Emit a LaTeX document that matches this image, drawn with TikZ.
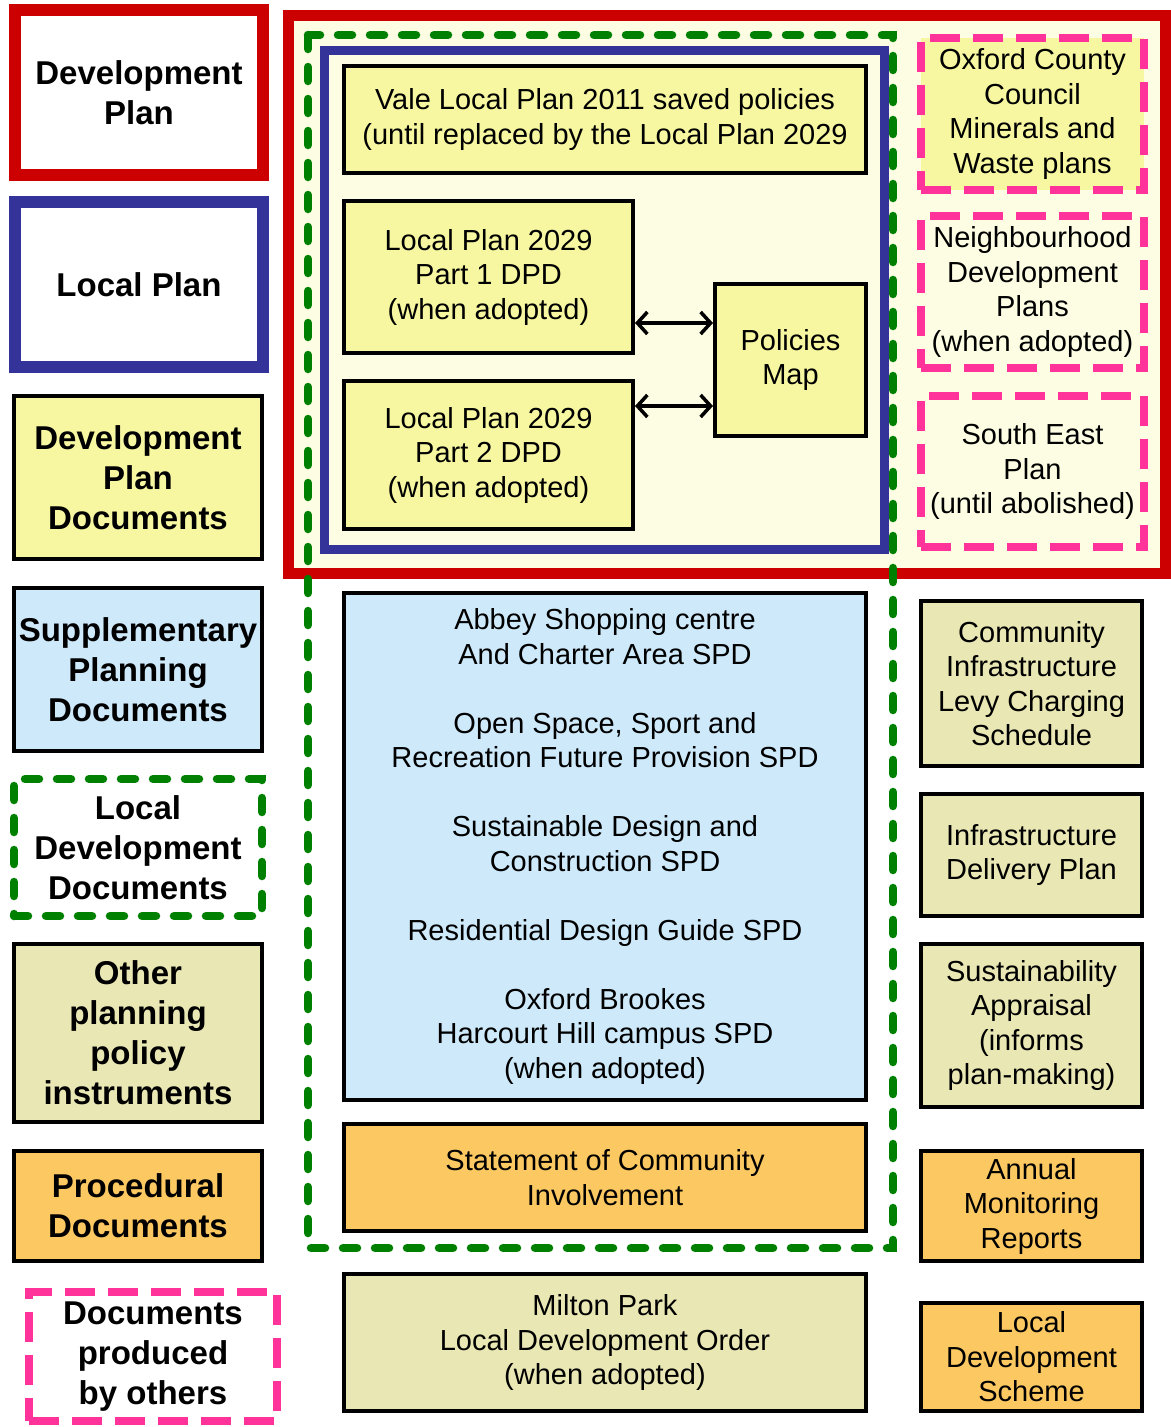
\documentclass[tikz,border=0pt]{standalone}
\usepackage{fontspec}
\setmainfont{Liberation Sans}
\definecolor{dpred}{HTML}{CC0000}
\definecolor{lpblue}{HTML}{333399}
\definecolor{lddgreen}{HTML}{008000}
\definecolor{otherpink}{HTML}{FF3399}
\definecolor{dpdyellow}{HTML}{F7F7A1}
\definecolor{spdblue}{HTML}{CDE9FA}
\definecolor{opikhaki}{HTML}{E9E7B3}
\definecolor{procorange}{HTML}{FBC862}
\definecolor{dpcream}{HTML}{FDFDE3}
\usetikzlibrary{arrows.meta,calc}

\begin{document}
\begin{tikzpicture}[x=1pt,y=-1pt,
    box/.style={draw=black,line width=4,align=center,inner sep=0pt,
      font=\fontsize{29}{34.5}\selectfont},
    keybox/.style={box,font=\bfseries\fontsize{33}{40}\selectfont},
    grdash/.style={draw=lddgreen,line width=8.5,line cap=round,dash pattern=on 14pt off 18pt},
    pkdash/.style={draw=otherpink,line width=7.5,dash pattern=on 30pt off 13pt},
    dbl/.style={{Straight Barb[length=10pt,width=22pt]}-{Straight Barb[length=10pt,width=22pt]},line width=3.5}]
    \useasboundingbox (0,0) rectangle (1170,1427);

    % Key (left column)
    \node[keybox,draw=dpred,line width=12,minimum width=248,minimum height=165]
      (keyDP) at (139,92.5) {Development\\Plan};
    \node[keybox,draw=lpblue,line width=12,minimum width=248,minimum height=165]
      (keyLP) at (139,284.5) {Local Plan};
    \node[keybox,fill=dpdyellow,minimum width=248,minimum height=163]
      (keyDPD) at (138,477.5) {Development\\Plan\\Documents};
    \node[keybox,fill=spdblue,minimum width=248,minimum height=163]
      (keySPD) at (138,669.5) {Supplementary\\Planning\\Documents};
    \node[keybox,grdash,minimum width=248,minimum height=137]
      (keyLDD) at (138,847.5) {Local\\Development\\Documents};
    \node[keybox,fill=opikhaki,minimum width=248,minimum height=178]
      (keyOPI) at (138,1033) {Other\\planning\\policy\\instruments};
    \node[keybox,fill=procorange,minimum width=248,minimum height=110]
      (keyPD) at (138,1206) {Procedural\\Documents};
    \node[keybox,pkdash,minimum width=248,minimum height=129]
      (keyOthers) at (153,1356.5) {Documents\\produced\\by others};

    % Development Plan frame
    \draw[dpred,line width=11,fill=dpcream] (288,15) rectangle (1165,573);
    % Local Development Documents frame
    \draw[grdash] (308,35) rectangle (893,1248);
    % Local Plan frame
    \draw[lpblue,line width=9] (324,50) rectangle (884,549);

    % Local Plan contents
    \node[box,fill=dpdyellow,minimum width=522,minimum height=107] (vale) at (605,119.5)
      {Vale Local Plan 2011 saved policies\\(until replaced by the Local Plan 2029};
    \node[box,fill=dpdyellow,minimum width=289,minimum height=152] (partOne) at (488.5,277)
      {Local Plan 2029\\Part 1 DPD\\(when adopted)};
    \node[box,fill=dpdyellow,minimum width=289,minimum height=148] (partTwo) at (488.5,455)
      {Local Plan 2029\\Part 2 DPD\\(when adopted)};
    \node[box,fill=dpdyellow,minimum width=151,minimum height=152] (polMap) at (790.5,360)
      {Policies\\Map};
    \draw[dbl] ($(partOne.east)+(0,46)$) coordinate (a1) -- (a1 -| polMap.west);
    \draw[dbl] ($(partTwo.east)+(0,-49)$) coordinate (a2) -- (a2 -| polMap.west);

    % Plans by others
    \node[box,pkdash,fill=dpdyellow,minimum width=223,minimum height=152] (occ) at (1032.5,114)
      {Oxford County\\Council\\Minerals and\\Waste plans};
    \node[box,pkdash,minimum width=223,minimum height=152] (ndp) at (1032.5,292)
      {Neighbourhood\\Development\\Plans\\(when adopted)};
    \node[box,pkdash,minimum width=223,minimum height=151] (sep) at (1032.5,471.5)
      {South East\\Plan\\(until abolished)};

    % SPDs and procedural documents
    \node[box,fill=spdblue,minimum width=522,minimum height=507] (spd) at (605,846.5)
      {Abbey Shopping centre\\And Charter Area SPD\\[34.5pt]
       Open Space, Sport and\\Recreation Future Provision SPD\\[34.5pt]
       Sustainable Design and\\Construction SPD\\[34.5pt]
       Residential Design Guide SPD\\[34.5pt]
       Oxford Brookes\\Harcourt Hill campus SPD\\(when adopted)};
    \node[box,fill=procorange,minimum width=522,minimum height=107] (sci) at (605,1177.5)
      {Statement of Community\\Involvement};
    \node[box,fill=opikhaki,minimum width=522,minimum height=137] (milton) at (605,1342.5)
      {Milton Park\\Local Development Order\\(when adopted)};

    % Right column
    \node[box,fill=opikhaki,minimum width=221,minimum height=165] (cil) at (1031.5,683.5)
      {Community\\Infrastructure\\Levy Charging\\Schedule};
    \node[box,fill=opikhaki,minimum width=221,minimum height=122] (idp) at (1031.5,855)
      {Infrastructure\\Delivery Plan};
    \node[box,fill=opikhaki,minimum width=221,minimum height=163] (sa) at (1031.5,1025.5)
      {Sustainability\\Appraisal\\(informs\\plan-making)};
    \node[box,fill=procorange,minimum width=221,minimum height=110] (amr) at (1031.5,1206)
      {Annual\\Monitoring\\Reports};
    \node[box,fill=procorange,minimum width=221,minimum height=108] (lds) at (1031.5,1357)
      {Local\\Development\\Scheme};
\end{tikzpicture}
\end{document}
